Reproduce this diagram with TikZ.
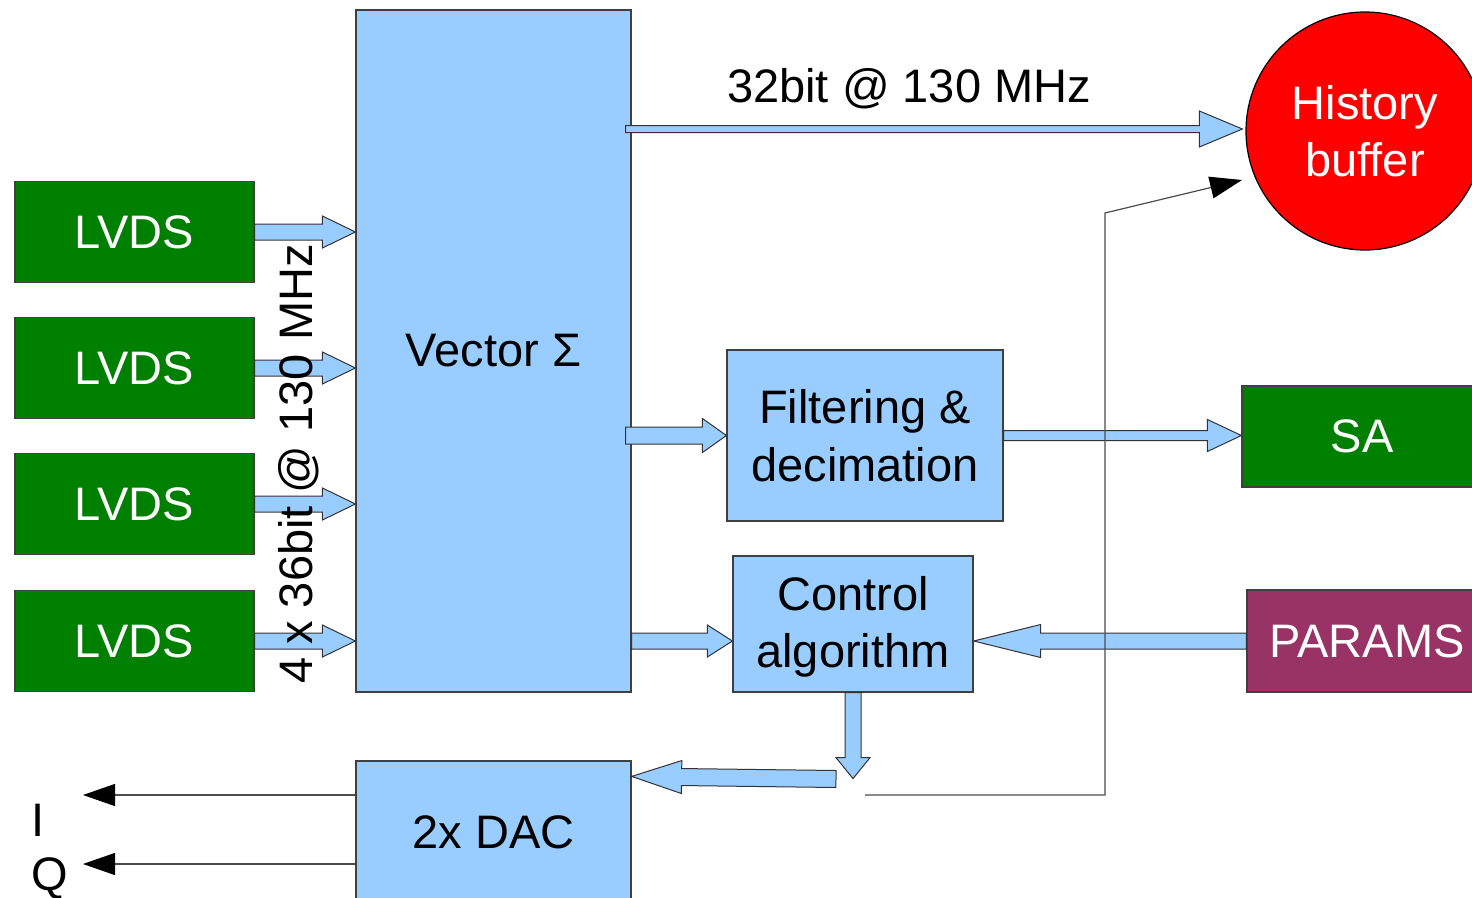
\documentclass[tikz,border=0pt]{standalone}
\usepackage{fontspec}
\setmainfont{Liberation Sans}
\usetikzlibrary{arrows.meta,calc}

\definecolor{boxblue}{HTML}{99CCFF}
\definecolor{boxgreen}{HTML}{008000}
\definecolor{boxred}{HTML}{FF0000}
\definecolor{boxpurple}{HTML}{993366}

% wide hollow arrow: from, to, shaft half width, head half width, head length
\newcommand{\fatarrow}[5]{%
  \path (#1); \pgfgetlastxy{\fax}{\fay}
  \path (#2); \pgfgetlastxy{\fbx}{\fby}
  \pgfmathsetmacro{\faang}{atan2((\fby)-(\fay),(\fbx)-(\fax))}
  \pgfmathsetmacro{\falen}{veclen((\fbx)-(\fax),(\fby)-(\fay))}
  \pgfmathsetmacro{\fabase}{\falen-#5}
  \begin{scope}[shift={(\fax,\fay)}, rotate=\faang]
    \draw[fatline] (0pt,#3pt) -- (\fabase pt,#3pt) -- (\fabase pt,#4pt) -- (\falen pt,0pt)
      -- (\fabase pt,-#4pt) -- (\fabase pt,-#3pt) -- (0pt,-#3pt) -- cycle;
  \end{scope}}

\begin{document}
\begin{tikzpicture}[x=1pt, y=-1pt, line join=miter,
    blk/.style={draw=black!75, line width=1.2pt, fill=boxblue, inner sep=0pt,
      font=\fontsize{47}{56}\selectfont},
    lvds/.style={blk, fill=boxgreen, text=white, minimum width=239pt, minimum height=101pt},
    fatline/.style={draw=black!80, line width=1pt, fill=boxblue},
    sigline/.style={draw=black!70, line width=1.2pt, -{Triangle[length=32pt,width=22pt,color=black]}},
    lbl/.style={font=\fontsize{47}{56}\selectfont}]
  \clip (0,0) rectangle (1472,897);
  \useasboundingbox (0,0) rectangle (1472,897);

  % ========== blocks ==========
  \node[blk, minimum width=275pt, minimum height=682pt] (vector) at (493.5,351) {Vector Σ};
  \node[blk, minimum width=276pt, minimum height=171pt, align=center,
    font=\fontsize{47}{58}\selectfont] (filt) at (865,435.5) {Filtering \&\\decimation};
  \node[blk, minimum width=240pt, minimum height=136pt, align=center,
    font=\fontsize{47}{57}\selectfont] (ctrl) at (853,624) {\strut Control\\algorithm};
  \node[blk, minimum width=275pt, minimum height=142pt] (dac) at (493.5,832) {2x DAC};
  \node[lvds, minimum width=240pt] (sa) at (1362,436.5) {SA};
  \node[blk, fill=boxpurple, text=white, minimum width=240pt, minimum height=102pt]
    (params) at (1367,641) {PARAMS};
  \node[circle, draw=black, line width=1.2pt, fill=boxred, text=white, minimum size=238pt,
    inner sep=0pt, align=center, font=\fontsize{47}{57}\selectfont] (hist) at (1365,131) {History\\buffer};

  % ========== LVDS inputs ==========
  \foreach \i/\y in {1/232,2/368,3/504,4/641} {
    \node[lvds] (lvds\i) at (134.5,\y) {LVDS};
    \fatarrow{lvds\i.east}{vector.west |- lvds\i.east}{8}{16}{33}
  }

  % ========== data path ==========
  \coordinate (topstart) at ($(vector.east |- hist.west)+(-6,-2)$);
  \coordinate (toptip) at ($(hist.west)+(-3,-2)$);
  \fatarrow{topstart}{toptip}{3.5}{18}{43}
  \coordinate (filtstart) at ($(vector.east |- filt.west)+(-6,0)$);
  \fatarrow{filtstart}{filt.west}{8.5}{17}{24}
  \fatarrow{filt.east}{sa.west |- filt.east}{5}{16}{34}
  \fatarrow{vector.east |- params.west}{ctrl.west |- params.west}{8}{16}{25}
  \fatarrow{params.west}{ctrl.east |- params.west}{8}{16.5}{67}
  \coordinate (ctrlout) at ($(ctrl.south)+(0,86)$);
  \fatarrow{ctrl.south}{ctrlout}{8}{17}{21}
  \coordinate (dacfrom) at (836,779);
  \coordinate (dacin) at ($(dac.north east)+(0,16)$);
  \fatarrow{dacfrom}{dacin}{8.5}{16.5}{50}

  % ========== thin signal lines ==========
  \coordinate (fbstart) at (865,795);
  \coordinate (fbcorner1) at (1105,795);
  \coordinate (fbcorner2) at (1105,213);
  \coordinate (fbtip) at (1242,180);
  \draw[sigline] (fbstart) -- (fbcorner1) -- (fbcorner2) -- (fbtip);
  \coordinate (iout) at (83,795);
  \coordinate (qout) at (83,864);
  \draw[sigline] (dac.west |- iout) -- (iout);
  \draw[sigline] (dac.west |- qout) -- (qout);

  % ========== labels ==========
  \node[lbl, rotate=90, anchor=base] (rate) at (312,464) {4 x 36bit @ 130 MHz};
  \node[lbl, anchor=base] (toprate) at (909,102) {32bit @ 130 MHz};
  \node[lbl, anchor=base] (ilabel) at (38,836) {I};
  \node[lbl, anchor=base] (qlabel) at (50,890) {Q};
\end{tikzpicture}
\end{document}
